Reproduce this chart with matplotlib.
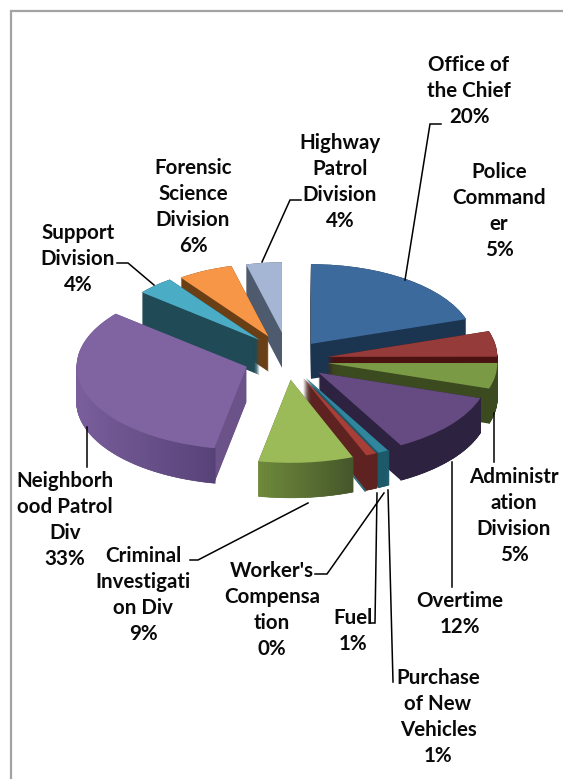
import numpy as np
import matplotlib
matplotlib.use("Agg")
import matplotlib.pyplot as plt
from matplotlib.collections import PolyCollection
from matplotlib.colors import to_rgb

# ---- data -------------------------------------------------------------
categories = ["Office of the Chief", "Police Commander", "Administration Division",
              "Overtime", "Purchase of New Vehicles", "Fuel", "Worker's Compensation",
              "Criminal Investigation Div", "Neighborhood Patrol Div",
              "Support Division", "Forensic Science Division", "Highway Patrol Division"]
values = [20, 5, 5, 12, 1, 1, 0.1, 9, 33, 4, 6, 4]
wrapped = ["Office of\nthe Chief", "Police\nCommand\ner",
           "Administr\nation\nDivision", "Overtime", "Purchase\nof New\nVehicles", "Fuel",
           "Worker's\nCompensa\ntion", "Criminal\nInvestigati\non Div",
           "Neighborh\nood Patrol\nDiv", "Support\nDivision",
           "Forensic\nScience\nDivision", "Highway\nPatrol\nDivision"]

# ---- styles -----------------------------------------------------------
top_colors = ["#3d6a9c", "#953b39", "#7b9a45", "#664a82", "#31859c", "#a83e38", "#31859c",
              "#9bbb59", "#8064a2", "#4bacc6", "#f79646", "#a5b6d4"]
face_colors = ["#1b3450", "#4a1210", "#3b4a1f", "#2d2240", "#1c5a6a", "#5e2320", "#1c5a6a",
               "#5d7535", "#6b5288", "#1f4a56", "#6b3f15", "#4e5a6d"]
wall_left = ["#1b3450", "#4a1210", "#3b4a1f", "#2d2240", "#1c5a6a", "#5e2320", "#1c5a6a",
             "#6f8a3c", "#7a5f9c", "#1f4a56", "#6b3f15", "#4e5a6d"]
wall_right = ["#1b3450", "#4a1210", "#3b4a1f", "#2d2240", "#1c5a6a", "#5e2320", "#1c5a6a",
              "#45562a", "#574278", "#1f4a56", "#6b3f15", "#4e5a6d"]
explode = [.24, .24, .24, .24, .24, .24, .24, .24, .24, .33, .31, .33]
radii = [.96, 1.0, 1.0, 1.0, 1.0, 1.0, 1.0, 1.0, 1.0, .90, .88, .85]
nudge_px = [0, 0, 0, 0, 0, 0, 0, 0, -2, 11, 4, 2]
stack = [0, 11, 10, 9, 1, 2, 3, 4, 6, 5, 7, 8]   # back-to-front order
zbase = {idx: 2 + n for n, idx in enumerate(stack)}

W, H = 563, 779
CX, CY, A, B, DEPTH = 287, 360, 170, 83, 35

label_pos = [(469, 91), (499, 211), (514, 516), (460, 614), (438, 717), (353, 631),
             (272, 610), (143, 595), (65, 520), (78, 259), (193, 207), (340, 182)]
leaders = [[(405, 280), (430, 124), (441, 124)],
           [(494, 413), (494, 462)],
           [(452, 462), (452, 587)],
           [(388, 490), (393, 682)],
           [(377, 493), (375, 623), (371, 623)],
           [(384, 493), (327, 574), (315, 574)],
           [(308, 503), (198, 560), (190, 560)],
           [(87, 427), (87, 467)],
           [(117, 263), (128, 263), (154, 285)],
           [(262, 262), (290, 200), (301, 200)]]

fig = plt.figure(figsize=(W / 100, H / 100), dpi=100, facecolor="white")
ax = fig.add_axes([0, 0, 1, 1])


def make_pie(dy, colors):
    wedges, _ = ax.pie(values, explode=explode, colors=colors, startangle=90, counterclock=False,
                       center=(0, -dy), wedgeprops={"linewidth": 0})
    for w, r, n in zip(wedges, radii, nudge_px):
        w.set_radius(r)
        w.set_center((w.center[0] + n / A, w.center[1]))
    return wedges


# side layers (deep to shallow)
for d in np.linspace(DEPTH / B, 0, DEPTH + 1):
    for i, w in enumerate(make_pie(d, face_colors)):
        w.set_zorder(zbase[i] + .1)

# top surfaces and curved outer walls
tops = make_pie(0, top_colors)
for i, w in enumerate(tops):
    w.set_zorder(zbase[i] + .3)
    cx, cy = w.center
    t = np.radians(np.arange(w.theta1, w.theta2 + .5, .5))
    t = t[np.sin(t) < 0.02]
    if len(t) < 2:
        continue
    xs, ys = cx + w.r * np.cos(t), cy + w.r * np.sin(t)
    polys, cols = [], []
    c0, c1 = np.array(to_rgb(wall_left[i])), np.array(to_rgb(wall_right[i]))
    span = max(xs.max() - xs.min(), 1e-6)
    for k in range(len(t) - 1):
        polys.append([(xs[k], ys[k]), (xs[k + 1], ys[k + 1]),
                      (xs[k + 1], ys[k + 1] - DEPTH / B), (xs[k], ys[k] - DEPTH / B)])
        f = (xs[k] - xs.min()) / span
        cols.append(c0 + (c1 - c0) * f)
    ax.add_collection(PolyCollection(polys, facecolors=cols, edgecolors=cols, linewidths=.4,
                                     zorder=zbase[i] + .2))

ax.set_aspect("auto")
ax.set_xlim(-CX / A, (W - CX) / A)
ax.set_ylim(-(H - CY) / B, CY / B)
ax.axis("off")

# overlay in image pixels for frame, leader lines and labels
ov = fig.add_axes([0, 0, 1, 1], facecolor="none")
ov.set_xlim(0, W)
ov.set_ylim(H, 0)
ov.axis("off")
ov.plot([10.5, 10.5, W], [H, 10.5, 10.5], color="#a3a3a3", lw=1.6, solid_joinstyle="miter")
for pts in leaders:
    ov.plot(*zip(*pts), color="black", lw=1.1, solid_joinstyle="miter")
for name, v, (x, y) in zip(wrapped, values, label_pos):
    ov.text(x, y, f"{name}\n{v:.0f}%", ha="center", va="center", ma="center", family="Lato",
            weight="bold", fontsize=14.8, color="#0a0a0a", linespacing=1.38)

fig.savefig("out.png", dpi=100, facecolor="white")
